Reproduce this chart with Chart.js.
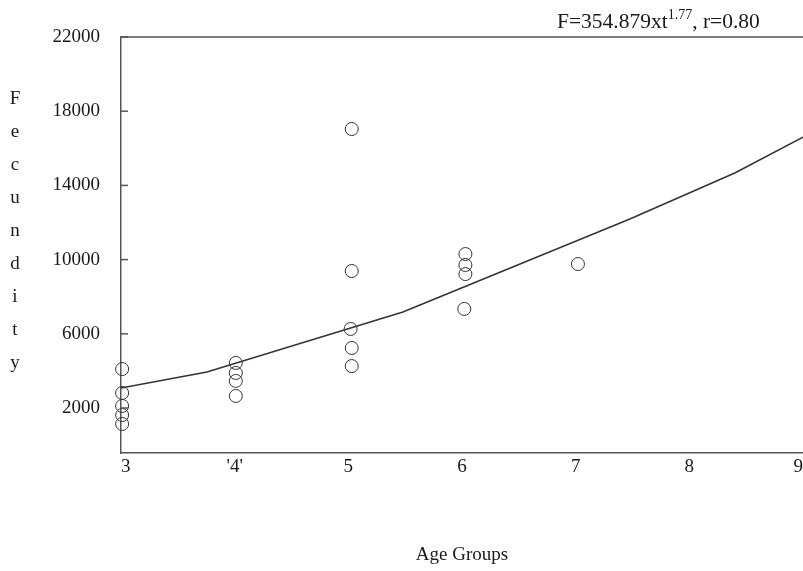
<!DOCTYPE html>
<html>
<head>
<meta charset="utf-8">
<script src="https://cdn.jsdelivr.net/npm/chart.js@4.4.1/dist/chart.umd.min.js"></script>
<style>
  html, body { margin: 0; padding: 0; background: #ffffff; overflow: hidden; }
  #wrap { width: 803px; height: 571px; position: relative; }
  canvas { display: block; }
</style>
</head>
<body>
<div id="wrap"><canvas id="c" width="803" height="571"></canvas></div>
<script>
// ---- data ----
const xTickLabels = ["3", "'4'", "5", "6", "7", "8", "9"];
const yTickValues = [2000, 6000, 10000, 14000, 18000, 22000];

const age3X = [3.01, 3.01, 3.01, 3.01, 3.01];
const age3Y = [4100, 2810, 2110, 1620, 1140];
const age4X = [4.01, 4.01, 4.01, 4.01];
const age4Y = [4430, 3890, 3460, 2650];
const age5X = [5.03, 5.03, 5.02, 5.03, 5.03];
const age5Y = [17040, 9385, 6260, 5235, 4260];
const age6X = [6.03, 6.03, 6.03, 6.02];
const age6Y = [10300, 9710, 9220, 7340];
const age7X = [7.02];
const age7Y = [9760];

const fitX = [3.0, 3.756, 5.48, 7.477, 8.40, 9.0];
const fitY = [3078, 3940, 7174, 12187, 14667, 16607];

const yAxisTitle = "Fecundity";
const xAxisTitle = "Age Groups";
const eqMain = "F=354.879xt";
const eqSup = "1.77";
const eqTail = ", r=0.80";

// ---- build datasets ----
function pts(xs, ys) { return xs.map((x, i) => ({ x: x, y: ys[i] })); }
const observed = [].concat(
  pts(age3X, age3Y), pts(age4X, age4Y), pts(age5X, age5Y),
  pts(age6X, age6Y), pts(age7X, age7Y)
);
const fitted = pts(fitX, fitY);

const FONT = "'Liberation Serif', 'Times New Roman', serif";
const INK = '#1a1a1a';
const AXIS = '#555555';

const decor = {
  id: 'decor',
  afterDraw(chart) {
    const ctx = chart.ctx;
    const a = chart.chartArea;
    const ys = chart.scales.y;
    ctx.save();
    // top border
    ctx.strokeStyle = AXIS;
    ctx.lineWidth = 1.5;
    ctx.beginPath();
    ctx.moveTo(a.left, a.top);
    ctx.lineTo(a.right, a.top);
    ctx.stroke();
    // inward y tick marks
    yTickValues.forEach(v => {
      const py = ys.getPixelForValue(v);
      ctx.beginPath();
      ctx.moveTo(a.left, py);
      ctx.lineTo(a.left + 7, py);
      ctx.stroke();
    });
    // vertical stacked y title
    ctx.fillStyle = INK;
    ctx.font = '19px ' + FONT;
    ctx.textAlign = 'center';
    ctx.textBaseline = 'middle';
    const letters = yAxisTitle.split('');
    letters.forEach((ch, i) => {
      ctx.fillText(ch, 15, a.top + 62 + i * 33);
    });
    // equation with superscript
    ctx.textAlign = 'left';
    ctx.textBaseline = 'alphabetic';
    let x = 557;
    const base = 28;
    ctx.font = '21.5px ' + FONT;
    ctx.fillText(eqMain, x, base);
    x += ctx.measureText(eqMain).width;
    ctx.font = '14px ' + FONT;
    ctx.fillText(eqSup, x, base - 9);
    x += ctx.measureText(eqSup).width;
    ctx.font = '21.5px ' + FONT;
    ctx.fillText(eqTail, x, base);
    ctx.restore();
  }
};

new Chart(document.getElementById('c'), {
  type: 'scatter',
  data: {
    datasets: [
      {
        label: 'Observed',
        data: observed,
        showLine: false,
        clip: false,
        pointStyle: 'circle',
        pointRadius: 6.5,
        pointHoverRadius: 6.5,
        pointBackgroundColor: 'rgba(0,0,0,0)',
        pointBorderColor: '#333333',
        pointBorderWidth: 1
      },
      {
        label: 'Fitted',
        data: fitted,
        showLine: true,
        borderColor: '#333333',
        borderWidth: 1.5,
        pointRadius: 0,
        tension: 0,
        fill: false
      }
    ]
  },
  plugins: [decor],
  options: {
    responsive: false,
    maintainAspectRatio: false,
    animation: false,
    devicePixelRatio: 1,
    layout: { autoPadding: false, padding: { top: 37, right: 0, bottom: 0, left: 0 } },
    plugins: {
      legend: { display: false },
      tooltip: { enabled: false },
      title: { display: false }
    },
    scales: {
      x: {
        type: 'linear',
        min: 3,
        max: 9,
        grid: { display: false, drawTicks: false },
        border: { display: true, color: AXIS, width: 1.5 },
        afterBuildTicks(scale) {
          scale.ticks = xTickLabels.map((t, i) => ({ value: 3 + i }));
        },
        ticks: {
          align: 'inner',
          padding: 3,
          color: INK,
          font: { family: FONT, size: 19 },
          callback: (v, i) => xTickLabels[i]
        },
        title: {
          display: true,
          text: xAxisTitle,
          color: INK,
          font: { family: FONT, size: 19 },
          padding: { top: 0, bottom: 5 }
        },
        afterFit(scale) {
          scale.height = 118;
          scale.paddingLeft = 0;
          scale.paddingRight = 0;
        }
      },
      y: {
        type: 'linear',
        min: -426,
        max: 22000,
        grid: { display: false, drawTicks: false },
        border: { display: true, color: AXIS, width: 1.5 },
        afterBuildTicks(scale) {
          scale.ticks = yTickValues.map(v => ({ value: v }));
        },
        ticks: {
          padding: 21,
          color: INK,
          font: { family: FONT, size: 19 },
          callback: v => String(v)
        },
        afterFit(scale) { scale.width = 121; }
      }
    }
  }
});
</script>
</body>
</html>
